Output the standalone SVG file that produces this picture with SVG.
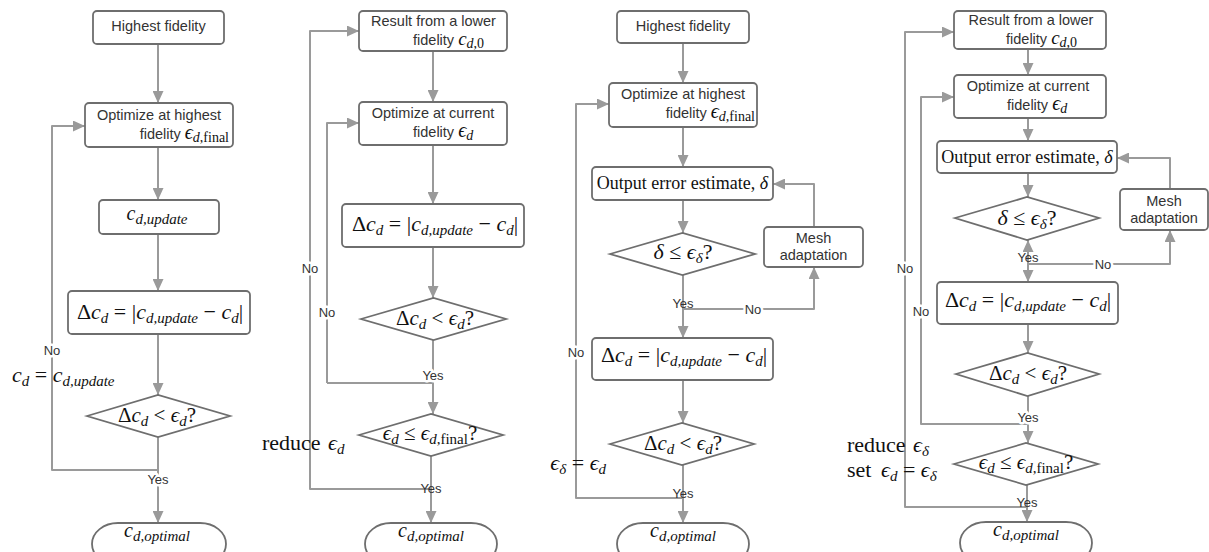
<svg xmlns="http://www.w3.org/2000/svg" width="1209" height="552" viewBox="0 0 1209 552">
<defs>
<style>
.box{fill:#fff;stroke:#6e6e6e;stroke-width:1.8}
.ln{fill:none;stroke:#9a9a9a;stroke-width:2;stroke-linejoin:round}
.arr{marker-end:url(#ah)}
.s{font-family:"Liberation Sans",Arial,sans-serif;font-size:14.5px;fill:#333}
.lbl{font-family:"Liberation Sans",Arial,sans-serif;font-size:13px;fill:#333}
.halo{stroke:#fff;stroke-width:5px;paint-order:stroke;stroke-linejoin:round}
.m{font-family:"Liberation Serif","DejaVu Serif","Times New Roman",serif;font-size:22px;fill:#111}
.f18{font-size:18px}
.f19{font-size:19px}
.f20{font-size:20px}
.f21{font-size:21px}
.i{font-style:italic}
.sb{font-size:15px}
.sb2{font-size:14px}
</style>
<marker id="ah" markerUnits="userSpaceOnUse" markerWidth="12" markerHeight="11" refX="12" refY="5.5" orient="auto">
<path d="M0,0 L12,5.5 L0,11 z" fill="#9a9a9a"/>
</marker>
<marker id="ahs" markerUnits="userSpaceOnUse" markerWidth="12" markerHeight="11" refX="12" refY="5.5" orient="auto-start-reverse">
<path d="M0,0 L12,5.5 L0,11 z" fill="#9a9a9a"/>
</marker>
</defs>
<rect width="1209" height="552" fill="#fff"/>

<g id="connectors">
<!-- column 1 -->
<path class="ln arr" d="M158,44 V103"/>
<path class="ln arr" d="M158,147 V200"/>
<path class="ln arr" d="M158,234 V291"/>
<path class="ln arr" d="M158,334 V395"/>
<path class="ln arr" d="M158,437 V523"/>
<path class="ln arr" d="M158,470 H52 V126 H85"/>
<!-- column 2 -->
<path class="ln arr" d="M433,51 V102"/>
<path class="ln arr" d="M433,145 V204"/>
<path class="ln arr" d="M433,247 V298"/>
<path class="ln arr" d="M433,340 V414"/>
<path class="ln arr" d="M327,383 V123 H359"/>
<path class="ln" d="M433,383 H327"/>
<path class="ln arr" d="M431,456 V523"/>
<path class="ln arr" d="M431,489 H310 V31 H359"/>
<!-- column 3 -->
<path class="ln arr" d="M683,43 V83"/>
<path class="ln arr" d="M683,127 V167"/>
<path class="ln arr" d="M683,200 V233"/>
<path class="ln arr" d="M683,275 V338"/>
<path class="ln arr" d="M683,309 H814 V267"/>
<path class="ln arr" d="M814,227 V184 H773"/>
<path class="ln arr" d="M683,380 V423"/>
<path class="ln arr" d="M683,465 V523"/>
<path class="ln arr" d="M683,498 H576 V104 H609"/>
<!-- column 4 -->
<path class="ln arr" d="M1028,49 V75"/>
<path class="ln arr" d="M1028,118 V141"/>
<path class="ln arr" d="M1028,173 V197"/>
<path class="ln" d="M1028,240 V282" marker-start="url(#ahs)" marker-end="url(#ah)"/>
<path class="ln arr" d="M1028,264 H1170 V230"/>
<path class="ln arr" d="M1170,189 V158 H1117"/>
<path class="ln arr" d="M1028,324 V353"/>
<path class="ln arr" d="M1028,396 V443"/>
<path class="ln arr" d="M1028,424 H921 V97 H954"/>
<path class="ln arr" d="M1027,485 V522"/>
<path class="ln arr" d="M1027,507 H905 V32 H954"/>
</g>

<g id="labels">
<text class="lbl halo" x="52" y="355" text-anchor="middle">No</text>
<text class="lbl halo" x="158" y="484" text-anchor="middle">Yes</text>
<text class="lbl halo" x="310" y="273" text-anchor="middle">No</text>
<text class="lbl halo" x="327" y="317" text-anchor="middle">No</text>
<text class="lbl halo" x="433" y="380" text-anchor="middle">Yes</text>
<text class="lbl" x="431" y="493" text-anchor="middle">Yes</text>
<text class="lbl" x="683" y="308" text-anchor="middle">Yes</text>
<text class="lbl halo" x="753" y="314" text-anchor="middle">No</text>
<text class="lbl halo" x="576" y="357" text-anchor="middle">No</text>
<text class="lbl" x="683" y="498" text-anchor="middle">Yes</text>
<text class="lbl" x="1028" y="262" text-anchor="middle">Yes</text>
<text class="lbl halo" x="1103" y="269" text-anchor="middle">No</text>
<text class="lbl halo" x="905" y="273" text-anchor="middle">No</text>
<text class="lbl halo" x="921" y="316" text-anchor="middle">No</text>
<text class="lbl halo" x="1028" y="422" text-anchor="middle">Yes</text>
<text class="lbl" x="1027" y="507" text-anchor="middle">Yes</text>
<!-- math annotations -->
<text class="m" x="12" y="382"><tspan class="i">c</tspan><tspan class="i sb" dy="4">d</tspan><tspan dy="-4"> = </tspan><tspan class="i">c</tspan><tspan class="i sb" dy="4">d,update</tspan></text>
<text class="m" x="262" y="450">reduce<tspan class="i" x="328">ϵ</tspan><tspan class="i sb" dy="4">d</tspan></text>
<text class="m" x="606" y="470" text-anchor="end"><tspan class="i">ϵ</tspan><tspan class="i sb" dy="4">δ</tspan><tspan dy="-4"> = </tspan><tspan class="i">ϵ</tspan><tspan class="i sb" dy="4">d</tspan></text>
<text class="m" x="847" y="452">reduce<tspan class="i" x="913">ϵ</tspan><tspan class="i sb" dy="4">δ</tspan></text>
<text class="m" x="847" y="477">set<tspan class="i" x="881">ϵ</tspan><tspan class="i sb" dy="4">d</tspan><tspan dy="-4"> = </tspan><tspan class="i">ϵ</tspan><tspan class="i sb" dy="4">δ</tspan></text>
</g>

<!-- Column 1 -->
<g id="c1-start">
<rect class="box" x="93" y="11" width="131" height="33" rx="4"/>
<text class="s" x="158.5" y="31" text-anchor="middle">Highest fidelity</text>
</g>
<g id="c1-optimize">
<rect class="box" x="85" y="103" width="148" height="44" rx="4"/>
<text class="s" x="159" y="120" text-anchor="middle">Optimize at highest</text>
<text class="s" x="229" y="139" text-anchor="end">fidelity <tspan class="m f20 i">ϵ</tspan><tspan class="m sb2" dy="3"><tspan class="i">d</tspan>,final</tspan></text>
</g>
<g id="c1-update">
<rect class="box" x="99" y="200" width="120" height="34" rx="4"/>
<text class="m f20" x="157" y="220" text-anchor="middle"><tspan class="i">c</tspan><tspan class="i sb" dy="4">d,update</tspan></text>
</g>
<g id="c1-delta">
<rect class="box" x="68" y="291" width="182" height="43" rx="4"/>
<text class="m" x="160" y="319" text-anchor="middle">Δ<tspan class="i">c</tspan><tspan class="i sb" dy="4">d</tspan><tspan dy="-4"> = |</tspan><tspan class="i">c</tspan><tspan class="i sb" dy="4">d,update</tspan><tspan dy="-4"> − </tspan><tspan class="i">c</tspan><tspan class="i sb" dy="4">d</tspan><tspan dy="-4">|</tspan></text>
</g>
<g id="c1-check">
<polygon class="box" points="87,416 158,395 230,416 158,437"/>
<text class="m f21" x="157" y="422" text-anchor="middle">Δ<tspan class="i">c</tspan><tspan class="i sb" dy="4">d</tspan><tspan dy="-4"> &lt; </tspan><tspan class="i">ϵ</tspan><tspan class="i sb" dy="4">d</tspan><tspan dy="-4">?</tspan></text>
</g>
<g id="c1-end">
<rect class="box" x="92" y="523" width="134" height="42" rx="26" ry="21"/>
<text class="m f20" x="157" y="537" text-anchor="middle"><tspan class="i">c</tspan><tspan class="i sb" dy="4">d,optimal</tspan></text>
</g>

<!-- Column 2 -->
<g id="c2-start">
<rect class="box" x="359" y="11" width="148" height="40" rx="4"/>
<text class="s" x="433.5" y="26" text-anchor="middle">Result from a lower</text>
<text class="s" x="413" y="45">fidelity <tspan class="m f19 i">c</tspan><tspan class="m sb2" dy="3"><tspan class="i">d</tspan>,0</tspan></text>
</g>
<g id="c2-optimize">
<rect class="box" x="359" y="102" width="148" height="43" rx="4"/>
<text class="s" x="433" y="118" text-anchor="middle">Optimize at current</text>
<text class="s" x="413" y="137">fidelity <tspan class="m f20 i">ϵ</tspan><tspan class="m i sb2" dy="3">d</tspan></text>
</g>
<g id="c2-delta">
<rect class="box" x="342" y="204" width="182" height="43" rx="4"/>
<text class="m" x="435" y="231" text-anchor="middle">Δ<tspan class="i">c</tspan><tspan class="i sb" dy="4">d</tspan><tspan dy="-4"> = |</tspan><tspan class="i">c</tspan><tspan class="i sb" dy="4">d,update</tspan><tspan dy="-4"> − </tspan><tspan class="i">c</tspan><tspan class="i sb" dy="4">d</tspan><tspan dy="-4">|</tspan></text>
</g>
<g id="c2-check">
<polygon class="box" points="361,319 433.5,298 506,319 433.5,340"/>
<text class="m f21" x="435" y="325" text-anchor="middle">Δ<tspan class="i">c</tspan><tspan class="i sb" dy="4">d</tspan><tspan dy="-4"> &lt; </tspan><tspan class="i">ϵ</tspan><tspan class="i sb" dy="4">d</tspan><tspan dy="-4">?</tspan></text>
</g>
<g id="c2-final">
<polygon class="box" points="359,435 431,414 503,435 431,456"/>
<text class="m f21" x="430" y="440" text-anchor="middle"><tspan class="i">ϵ</tspan><tspan class="i sb" dy="4">d</tspan><tspan dy="-4"> ≤ </tspan><tspan class="i">ϵ</tspan><tspan class="sb" dy="4"><tspan class="i">d</tspan>,final</tspan><tspan dy="-4">?</tspan></text>
</g>
<g id="c2-end">
<rect class="box" x="365" y="523" width="132" height="42" rx="26" ry="21"/>
<text class="m f20" x="431" y="537" text-anchor="middle"><tspan class="i">c</tspan><tspan class="i sb" dy="4">d,optimal</tspan></text>
</g>

<!-- Column 3 -->
<g id="c3-start">
<rect class="box" x="617" y="11" width="132" height="32" rx="4"/>
<text class="s" x="683" y="31" text-anchor="middle">Highest fidelity</text>
</g>
<g id="c3-optimize">
<rect class="box" x="609" y="83" width="148" height="44" rx="4"/>
<text class="s" x="683" y="99" text-anchor="middle">Optimize at highest</text>
<text class="s" x="755" y="118" text-anchor="end">fidelity <tspan class="m f20 i">ϵ</tspan><tspan class="m sb2" dy="3"><tspan class="i">d</tspan>,final</tspan></text>
</g>
<g id="c3-error">
<rect class="box" x="592" y="167" width="181" height="33" rx="4"/>
<text class="m f18" x="682.5" y="189" text-anchor="middle">Output error estimate, <tspan class="i">δ</tspan></text>
</g>
<g id="c3-check-delta">
<polygon class="box" points="610,254 682.5,233 755,254 682.5,275"/>
<text class="m" x="683" y="259" text-anchor="middle"><tspan class="i">δ</tspan> ≤ <tspan class="i">ϵ</tspan><tspan class="i sb" dy="4">δ</tspan><tspan dy="-4">?</tspan></text>
</g>
<g id="c3-mesh">
<rect class="box" x="764" y="227" width="99" height="40" rx="4"/>
<text class="s" x="813.5" y="243" text-anchor="middle">Mesh</text>
<text class="s" x="813.5" y="260" text-anchor="middle">adaptation</text>
</g>
<g id="c3-delta">
<rect class="box" x="592" y="338" width="181" height="42" rx="4"/>
<text class="m" x="684" y="362" text-anchor="middle">Δ<tspan class="i">c</tspan><tspan class="i sb" dy="4">d</tspan><tspan dy="-4"> = |</tspan><tspan class="i">c</tspan><tspan class="i sb" dy="4">d,update</tspan><tspan dy="-4"> − </tspan><tspan class="i">c</tspan><tspan class="i sb" dy="4">d</tspan><tspan dy="-4">|</tspan></text>
</g>
<g id="c3-check">
<polygon class="box" points="610,444 682,423 754,444 682,465"/>
<text class="m f21" x="683" y="450" text-anchor="middle">Δ<tspan class="i">c</tspan><tspan class="i sb" dy="4">d</tspan><tspan dy="-4"> &lt; </tspan><tspan class="i">ϵ</tspan><tspan class="i sb" dy="4">d</tspan><tspan dy="-4">?</tspan></text>
</g>
<g id="c3-end">
<rect class="box" x="617" y="523" width="132" height="42" rx="26" ry="21"/>
<text class="m f20" x="683" y="537" text-anchor="middle"><tspan class="i">c</tspan><tspan class="i sb" dy="4">d,optimal</tspan></text>
</g>

<!-- Column 4 -->
<g id="c4-start">
<rect class="box" x="954" y="11" width="152" height="38" rx="4"/>
<text class="s" x="1031" y="25" text-anchor="middle">Result from a lower</text>
<text class="s" x="1006" y="44">fidelity <tspan class="m f19 i">c</tspan><tspan class="m sb2" dy="3"><tspan class="i">d</tspan>,0</tspan></text>
</g>
<g id="c4-optimize">
<rect class="box" x="954" y="75" width="152" height="43" rx="4"/>
<text class="s" x="1028" y="91" text-anchor="middle">Optimize at current</text>
<text class="s" x="1007" y="110">fidelity <tspan class="m f20 i">ϵ</tspan><tspan class="m i sb2" dy="3">d</tspan></text>
</g>
<g id="c4-error">
<rect class="box" x="937" y="141" width="180" height="32" rx="4"/>
<text class="m f18" x="1027" y="163" text-anchor="middle">Output error estimate, <tspan class="i">δ</tspan></text>
</g>
<g id="c4-check-delta">
<polygon class="box" points="955,218 1027,197 1099,218 1027,240"/>
<text class="m" x="1027" y="225" text-anchor="middle"><tspan class="i">δ</tspan> ≤ <tspan class="i">ϵ</tspan><tspan class="i sb" dy="4">δ</tspan><tspan dy="-4">?</tspan></text>
</g>
<g id="c4-mesh">
<rect class="box" x="1120" y="189" width="88" height="41" rx="4"/>
<text class="s" x="1164" y="206" text-anchor="middle">Mesh</text>
<text class="s" x="1164" y="223" text-anchor="middle">adaptation</text>
</g>
<g id="c4-delta">
<rect class="box" x="937" y="282" width="181" height="42" rx="4"/>
<text class="m" x="1028" y="307" text-anchor="middle">Δ<tspan class="i">c</tspan><tspan class="i sb" dy="4">d</tspan><tspan dy="-4"> = |</tspan><tspan class="i">c</tspan><tspan class="i sb" dy="4">d,update</tspan><tspan dy="-4"> − </tspan><tspan class="i">c</tspan><tspan class="i sb" dy="4">d</tspan><tspan dy="-4">|</tspan></text>
</g>
<g id="c4-check">
<polygon class="box" points="956,374 1027.5,353 1099,374 1027.5,396"/>
<text class="m f21" x="1028" y="380" text-anchor="middle">Δ<tspan class="i">c</tspan><tspan class="i sb" dy="4">d</tspan><tspan dy="-4"> &lt; </tspan><tspan class="i">ϵ</tspan><tspan class="i sb" dy="4">d</tspan><tspan dy="-4">?</tspan></text>
</g>
<g id="c4-final">
<polygon class="box" points="954,464 1026,443 1098,464 1026,485"/>
<text class="m f21" x="1026" y="469" text-anchor="middle"><tspan class="i">ϵ</tspan><tspan class="i sb" dy="4">d</tspan><tspan dy="-4"> ≤ </tspan><tspan class="i">ϵ</tspan><tspan class="sb" dy="4"><tspan class="i">d</tspan>,final</tspan><tspan dy="-4">?</tspan></text>
</g>
<g id="c4-end">
<rect class="box" x="960" y="522" width="132" height="42" rx="26" ry="21"/>
<text class="m f20" x="1026" y="536" text-anchor="middle"><tspan class="i">c</tspan><tspan class="i sb" dy="4">d,optimal</tspan></text>
</g>
</svg>
